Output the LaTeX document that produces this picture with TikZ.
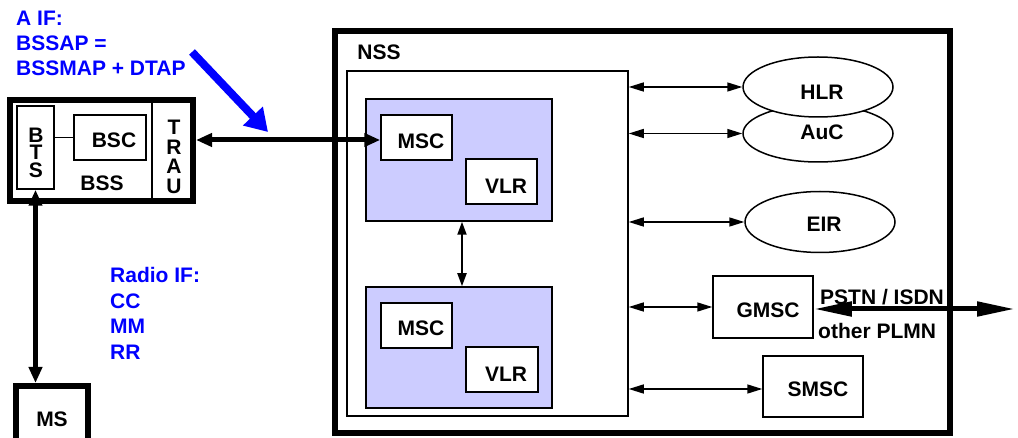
\documentclass[tikz,border=0pt]{standalone}
\usepackage{fontspec}
\setmainfont{Liberation Sans}
\usetikzlibrary{arrows.meta,shapes.geometric}
\definecolor{nssfill}{RGB}{204,204,255}
\definecolor{ifblue}{RGB}{0,0,255}

\begin{document}
\begin{tikzpicture}[x=1pt,y=-1pt,
  txt/.style={inner sep=0pt, font=\fontsize{21}{24}\selectfont\bfseries},
  box/.style 2 args={draw, rectangle, line width=1.5pt, inner sep=0pt,
    minimum width=#1, minimum height=#2},
  heavybox/.style 2 args={draw, rectangle, line width=6pt, inner sep=0pt,
    minimum width=#1, minimum height=#2},
  oval/.style={draw, ellipse, fill=white, line width=1.5pt, inner sep=0pt,
    minimum width=150pt, minimum height=#1},
  thinarrow/.style={line width=1.5pt,
    {Triangle[length=15pt,width=9pt]}-{Triangle[length=15pt,width=9pt]}},
  midarrow/.style={line width=2pt,
    {Triangle[length=13pt,width=9pt]}-{Triangle[length=13pt,width=9pt]}},
  heavyarrow/.style={line width=5pt,
    {Triangle[length=16pt,width=13pt]}-{Triangle[length=16pt,width=13pt]}},
  trunkarrow/.style={line width=5pt,
    {Triangle[length=38pt,width=14pt]}-{Triangle[length=38pt,width=14pt]}}]

\useasboundingbox (0,0) rectangle (1018,438);
\clip (0,0) rectangle (1018,438);

% ---------- BSS ----------
\node[heavybox={183}{101}] (bss) at (101.5,150.5) {};
\draw[line width=1.5pt] (152,100) -- (152,201);
\node[box={37}{83}] (bts) at (35.5,147.5) {};
\node[box={72}{45}] (bsc) at (110,137.5) {};
\draw[line width=1.5pt] (bts.east |- bsc) -- (bsc.west);
% vertical lettering of BTS and TRAU
\node[txt] (btsB) at (36,135) {B};
\node[txt] (btsT) at (36,152.5) {T};
\node[txt] (btsS) at (36,170) {S};
\node[txt] (trauT) at (174,127) {T};
\node[txt] (trauR) at (174,147) {R};
\node[txt] (trauA) at (174,166.5) {A};
\node[txt] (trauU) at (174,186) {U};
\node[txt] (bsclbl) at (114,140) {BSC};
\node[txt] (bsslbl) at (102,183) {BSS};

% ---------- MS ----------
\node[heavybox={72}{74}] (ms) at (52,423) {};
\node[txt] (mslbl) at (52,419) {MS};
\draw[heavyarrow] (bts.south) -- (bts.south |- ms.north);

% ---------- interface annotations ----------
\node[txt, text=ifblue, align=left, anchor=west,
  font=\fontsize{21}{25}\selectfont\bfseries] (aiftext) at (16,43)
  {A IF:\\BSSAP =\\BSSMAP + DTAP};
\coordinate (bluetail) at (192,52);
\coordinate (bluetip) at (268,132);
\draw[ifblue, line width=8pt, -{Triangle[length=22pt,width=26pt]}]
  (bluetail) -- (bluetip);
\node[txt, text=ifblue, align=left, anchor=west,
  font=\fontsize{21}{25.7}\selectfont\bfseries] (radiotext) at (110,313.5)
  {Radio IF:\\CC\\MM\\RR};

% ---------- NSS ----------
\node[heavybox={615}{402}] (nss) at (642.5,232) {};
\node[txt] (nsslbl) at (379,52) {NSS};
\node[box={281}{345}] (core) at (487.5,243.5) {};

\node[box={186}{122}, fill=nssfill] (blue1) at (459,160) {};
\node[box={71}{45}, fill=white] (msc1) at (416.5,137.5) {};
\node[box={71}{45}, fill=white] (vlr1) at (501.5,181.5) {};
\node[txt] (msc1lbl) at (421,141) {MSC};
\node[txt] (vlr1lbl) at (506,186) {VLR};

\node[box={186}{121}, fill=nssfill] (blue2) at (459,347.5) {};
\node[box={71}{45}, fill=white] (msc2) at (416.5,325.5) {};
\node[box={72}{45}, fill=white] (vlr2) at (502,369.5) {};
\node[txt] (msc2lbl) at (421,328) {MSC};
\node[txt] (vlr2lbl) at (506,374) {VLR};

\draw[midarrow] ([xshift=3pt]blue1.south) -- ([xshift=3pt]blue2.north);

% A interface
\coordinate (aif) at (300,140);
\draw[heavyarrow] (bss.east |- aif) -- (msc1.west |- aif);

% ---------- databases and service centres ----------
\node[oval=57pt] (auc) at (818,133.5) {};
\node[oval=60pt] (hlr) at (818,87) {};
\node[oval=61pt] (eir) at (820,222) {};
\node[txt] (hlrlbl) at (822,92) {HLR};
\node[txt] (auclbl) at (822,132) {AuC};
\node[txt] (eirlbl) at (824,224) {EIR};

\node[box={100}{62}] (gmsc) at (763,307) {};
\node[box={100}{61}] (smsc) at (813,386.5) {};
\node[txt] (gmsclbl) at (768,310) {GMSC};
\node[txt] (smsclbl) at (818,389) {SMSC};

\draw[thinarrow] (core.east |- hlr) -- (hlr.west);
\draw[thinarrow] (core.east |- auc) -- (auc.west);
\draw[thinarrow] (core.east |- eir) -- (eir.west);
\draw[thinarrow] (core.east |- gmsc) -- (gmsc.west);
\draw[thinarrow] (core.east |- 0,389) -- (smsc.west |- 0,389);

% external networks
\node[txt, anchor=west] (pstn) at (820,297) {PSTN / ISDN};
\node[txt, anchor=west] (plmn) at (818,331) {other PLMN};
\coordinate (pstnend) at (1015,309);
\draw[trunkarrow] (gmsc.east |- pstnend) -- (pstnend);
\end{tikzpicture}
\end{document}
